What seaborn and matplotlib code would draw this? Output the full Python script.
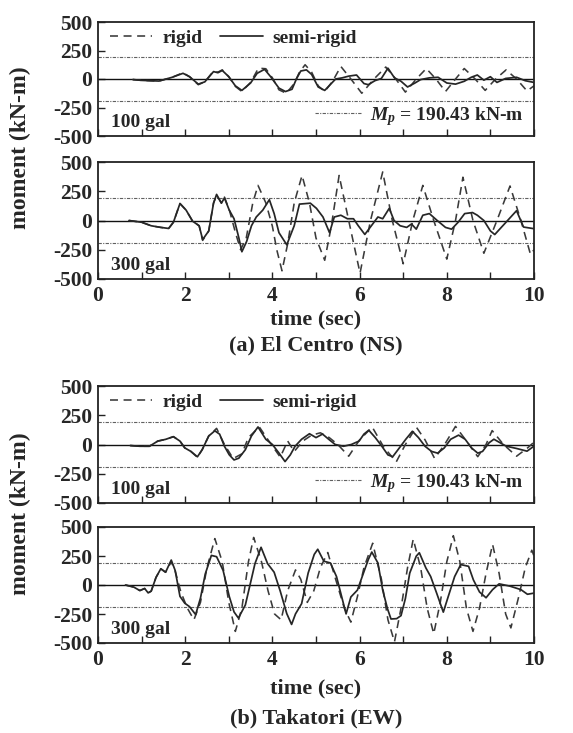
import numpy as np
import pandas as pd
import matplotlib
matplotlib.use('Agg')
import matplotlib.pyplot as plt
import seaborn as sns
from matplotlib.lines import Line2D

# ---------------- data ----------------
MP = 190.43
ylim_vals = [-500, 500]
ytick_vals = [-500, -250, 0, 250, 500]
xtick_vals = list(range(0, 11))
xtick_labels = ['0', '', '2', '', '4', '', '6', '', '8', '', '10']

# (a) El Centro, 100 gal
t_ec100_semi = [0.8, 1.0, 1.4, 1.7, 1.95, 2.1, 2.3, 2.45, 2.65, 2.75, 2.85, 3.0, 3.15, 3.3, 3.5,
                3.65, 3.82, 3.96, 4.15, 4.3, 4.45, 4.55, 4.65, 4.78, 4.9, 5.05, 5.2, 5.35, 5.45, 5.6,
                5.75, 5.93, 6.1, 6.2, 6.35, 6.5, 6.65, 6.8, 6.95, 7.1, 7.27, 7.4, 7.6, 7.8, 8.0,
                8.2, 8.4, 8.56, 8.7, 8.85, 9.0, 9.15, 9.35, 9.6, 9.8, 10.0]
m_ec100_semi = [-5, -12, -18, 15, 50, 20, -45, -25, 65, 55, 75, 20, -60, -100, -35,
                50, 85, 20, -80, -110, -90, 0, 70, 80, 40, -70, -100, -40, 0, 10,
                25, 35, -40, -50, -15, 5, 95, 10, -20, -70, -35, -5, 10, 15, -35,
                -45, -20, 15, 35, -10, 20, -30, 5, 15, -15, -30]
t_ec100_rigid = [0.8, 1.0, 1.4, 1.7, 1.95, 2.1, 2.3, 2.45, 2.65, 2.75, 2.85, 3.0, 3.15, 3.3, 3.5,
                 3.68, 3.85, 4.0, 4.15, 4.32, 4.5, 4.62, 4.75, 4.9, 5.05, 5.2, 5.38, 5.57, 5.8, 6.05,
                 6.33, 6.6, 6.83, 7.05, 7.3, 7.53, 7.75, 7.97, 8.2, 8.4, 8.65, 8.88, 9.12, 9.36, 9.6,
                 9.84, 10.0]
m_ec100_rigid = [-5, -12, -18, 15, 55, 20, -50, -25, 70, 60, 80, 20, -65, -110, -30,
                 95, 90, 10, -95, -125, -40, 60, 125, 60, -60, -110, -20, 110, 0, -125,
                 0, 105, 0, -115, 0, 92, 0, -110, 0, 92, 0, -100, 0, 80, 0,
                 -105, -60]

# (a) El Centro, 300 gal
t_ec300_semi = [0.71, 1.0, 1.22, 1.44, 1.62, 1.73, 1.88, 2.02, 2.17, 2.32, 2.4, 2.54, 2.65, 2.72, 2.83,
                2.9, 3.01, 3.12, 3.23, 3.3, 3.41, 3.52, 3.63, 3.78, 3.93, 4.04, 4.15, 4.33, 4.5, 4.62,
                4.87, 5.01, 5.16, 5.31, 5.42, 5.57, 5.72, 5.86, 5.97, 6.12, 6.27, 6.42, 6.53, 6.68, 6.79,
                6.93, 7.08, 7.19, 7.3, 7.45, 7.6, 7.78, 7.97, 8.11, 8.26, 8.41, 8.59, 8.7, 8.85, 9.0,
                9.1, 9.36, 9.6, 9.76, 10.0]
m_ec300_semi = [0, -15, -45, -59, -68, -15, 145, 89, -6, -45, -163, -89, 148, 223, 148,
                193, 89, 15, -148, -267, -178, -45, 30, 89, 178, 59, -104, -208, -45, 140,
                148, 104, 30, -104, 30, 45, 15, 15, -45, -119, -45, 30, 15, 104, 0,
                -45, -59, -30, -74, 45, 59, 0, -59, -74, -15, 59, 68, 45, 0, -89,
                -120, -14, 84, -56, -70]
t_ec300_rigid = [0.71, 1.0, 1.22, 1.44, 1.62, 1.73, 1.88, 2.02, 2.17, 2.32, 2.4, 2.54, 2.65, 2.72, 2.83,
                 2.9, 3.02, 3.15, 3.27, 3.4, 3.55, 3.67, 3.85, 4.0, 4.1, 4.22, 4.35, 4.5, 4.68, 4.85,
                 5.0, 5.2, 5.35, 5.53, 5.75, 6.01, 6.25, 6.53, 6.75, 7.0, 7.22, 7.45, 7.7, 8.0, 8.2,
                 8.37, 8.6, 8.85, 9.15, 9.45, 9.7, 9.92, 10.0]
m_ec300_rigid = [0, -15, -45, -59, -68, -15, 145, 89, -6, -45, -170, -89, 150, 215, 150,
                 200, 80, -100, -250, -150, 150, 300, 150, -50, -250, -430, -200, 150, 385, 150,
                 -150, -340, -50, 385, 0, -450, 0, 415, 0, -370, 0, 300, 0, -330, 0,
                 370, 0, -280, 0, 295, 0, -290, -250]

# (b) Takatori, 100 gal
t_tk100_semi = [0.74, 0.96, 1.18, 1.37, 1.55, 1.73, 1.88, 1.99, 2.13, 2.28, 2.39, 2.54, 2.68, 2.79, 2.9,
                3.01, 3.12, 3.23, 3.38, 3.52, 3.67, 3.85, 4.0, 4.15, 4.29, 4.41, 4.52, 4.67, 4.85, 5.0,
                5.15, 5.29, 5.44, 5.63, 5.81, 5.99, 6.1, 6.21, 6.36, 6.51, 6.65, 6.76, 6.91, 7.06, 7.21,
                7.35, 7.5, 7.65, 7.79, 7.94, 8.09, 8.27, 8.42, 8.57, 8.71, 8.82, 8.97, 9.08, 9.36, 9.6,
                9.84, 10.0]
m_tk100_semi = [-9, -15, -15, 29, 44, 67, 29, -29, -59, -105, -44, 73, 117, 88, -15,
                -88, -132, -117, -44, 73, 150, 44, 0, -73, -146, -89, -15, 45, 92, 59,
                89, 45, 0, -15, 0, 30, 89, 122, 59, -15, -89, -104, -30, 45, 113,
                59, -15, -59, -74, -30, 45, 80, 45, -30, -74, -59, 15, 45, -14, -34,
                -57, -14]
t_tk100_rigid = [0.74, 0.96, 1.18, 1.37, 1.55, 1.73, 1.88, 1.99, 2.13, 2.28, 2.39, 2.54,
                 2.72, 2.9, 3.1, 3.3, 3.45, 3.7, 3.9, 4.18, 4.35, 4.5, 4.7, 4.9, 5.1, 5.3, 5.5,
                 5.75, 6.0, 6.29, 6.55, 6.84, 7.05, 7.3, 7.5, 7.72, 7.95, 8.2, 8.45, 8.71, 8.9, 9.04,
                 9.3, 9.6, 9.85, 10.0]
m_tk100_rigid = [-9, -15, -15, 29, 44, 67, 29, -29, -59, -110, -44, 73,
                 138, 0, -120, -80, 60, 150, 40, -108, 30, -60, 30, 80, 100, 60, 0,
                 -100, 40, 149, -20, -149, 0, 149, 40, -119, 0, 155, 30, -104, 0, 119,
                 0, -100, -30, 20]

# (b) Takatori, 300 gal
t_tk300_semi = [0.63, 0.82, 0.96, 1.07, 1.15, 1.22, 1.33, 1.44, 1.55, 1.68, 1.77, 1.88, 1.99, 2.1, 2.24,
                2.35, 2.46, 2.6, 2.72, 2.87, 3.01, 3.12, 3.22, 3.38, 3.49, 3.6, 3.74, 3.89, 4.04, 4.18,
                4.33, 4.44, 4.53, 4.67, 4.82, 4.96, 5.04, 5.18, 5.33, 5.47, 5.58, 5.69, 5.8, 5.95, 6.06,
                6.2, 6.28, 6.42, 6.53, 6.64, 6.72, 6.85, 6.95, 7.05, 7.15, 7.3, 7.37, 7.52, 7.63, 7.77,
                7.92, 8.03, 8.18, 8.32, 8.5, 8.61, 8.75, 8.9, 9.05, 9.2, 9.45, 9.7, 9.85, 10.0]
m_tk300_semi = [0, -18, -48, -30, -68, -53, 65, 140, 110, 215, 125, -98, -157, -187, -255,
                -113, 95, 255, 244, 125, -98, -232, -285, -172, 6, 184, 325, 184, 110, -53,
                -247, -340, -249, -161, 103, 264, 308, 205, 190, 73, -88, -249, -103, -44, 73,
                220, 284, 190, -44, -205, -293, -290, -264, -117, 103, 249, 278, 147, 73, -73,
                -234, -103, 73, 176, 161, 44, -60, -110, -40, 10, -10, -40, -80, -70]
t_tk300_rigid = [0.63, 0.82, 0.96, 1.07, 1.15, 1.22, 1.33, 1.44, 1.55, 1.68, 1.77,
                 1.9, 2.05, 2.2, 2.35, 2.5, 2.68, 2.85, 3.0, 3.15, 3.3, 3.45, 3.57, 3.75, 3.9, 4.05,
                 4.2, 4.35, 4.53, 4.65, 4.8, 4.95, 5.1, 5.27, 5.45, 5.65, 5.8, 5.95, 6.1, 6.3, 6.5,
                 6.65, 6.8, 6.95, 7.1, 7.23, 7.4, 7.55, 7.7, 7.85, 8.0, 8.15, 8.3, 8.45, 8.6, 8.75,
                 8.9, 9.05, 9.2, 9.35, 9.47, 9.65, 9.8, 9.95, 10.0]
m_tk300_rigid = [0, -18, -48, -30, -68, -53, 65, 140, 110, 200, 120,
                 -60, -200, -300, -150, 150, 400, 200, -150, -400, -200, 200, 410, 200, -50, -250,
                 -300, -50, 130, 50, -150, -50, 150, 280, 50, -200, -320, -100, 150, 360, 50,
                 -300, -490, -200, 150, 395, 150, -200, -420, -150, 200, 425, 200, -200, -400, -200,
                 100, 350, 100, -250, -370, -100, 150, 300, 250]

panel_labels = ['100 gal', '300 gal', '100 gal', '300 gal']
series_labels = ['rigid', 'semi-rigid']
mp_label = r'$M_p$ = 190.43 kN-m'
captions = ['(a) El Centro (NS)', '(b) Takatori (EW)']

# ---------------- style ----------------
sns.set_theme(style='ticks')
plt.rcParams['font.family'] = ['Liberation Serif', 'DejaVu Serif']
plt.rcParams['font.weight'] = 'bold'
plt.rcParams['axes.unicode_minus'] = False
plt.rcParams['mathtext.fontset'] = 'custom'
plt.rcParams['mathtext.it'] = 'Liberation Serif:italic:bold'
plt.rcParams['mathtext.rm'] = 'Liberation Serif:bold'
plt.rcParams['mathtext.bf'] = 'Liberation Serif:bold'

W, H = 573, 733
fig = plt.figure(figsize=(W / 100, H / 100), dpi=100)
fig.patch.set_facecolor('white')

XL, XR = 98, 534
panel_rows = [(22, 136), (162, 279), (386, 503), (527, 643)]

c_semi = '#262626'
c_rigid = '#3a3a3a'
c_mp = '#606060'
rigid_ls = (0, (5, 3.5))
mp_ls = (0, (3, 1.2, 1, 1.2))
FS_TICK = 15.5
FS_LAB = 16
FS_YLAB = 17
FS_SMALL = 14

series = [
    (t_ec100_semi, m_ec100_semi, t_ec100_rigid, m_ec100_rigid),
    (t_ec300_semi, m_ec300_semi, t_ec300_rigid, m_ec300_rigid),
    (t_tk100_semi, m_tk100_semi, t_tk100_rigid, m_tk100_rigid),
    (t_tk300_semi, m_tk300_semi, t_tk300_rigid, m_tk300_rigid),
]

for i, ((top, bot), (ts, ms, tr, mr)) in enumerate(zip(panel_rows, series)):
    ax = fig.add_axes([XL / W, 1 - bot / H, (XR - XL) / W, (bot - top) / H])
    ax.set_facecolor('white')
    ax.axhline(MP, color=c_mp, lw=0.8, ls=mp_ls, zorder=1)
    ax.axhline(-MP, color=c_mp, lw=0.8, ls=mp_ls, zorder=1)
    ax.axhline(0, color='#111111', lw=1.0, zorder=1)
    df_s = pd.DataFrame({'t': ts, 'm': ms})
    df_r = pd.DataFrame({'t': tr, 'm': mr})
    sns.lineplot(data=df_r, x='t', y='m', ax=ax, color=c_rigid, lw=1.15,
                 linestyle=rigid_ls, estimator=None, sort=False, legend=False, zorder=2)
    sns.lineplot(data=df_s, x='t', y='m', ax=ax, color=c_semi, lw=1.25,
                 estimator=None, sort=False, legend=False, zorder=3)
    ax.set_xlim(0, 10)
    ax.set_ylim(*ylim_vals)
    ax.set_yticks(ytick_vals)
    ax.set_yticklabels([str(v) for v in ytick_vals])
    ax.set_xticks(xtick_vals)
    if i % 2 == 1:
        ax.set_xticklabels(xtick_labels)
    else:
        ax.set_xticklabels([])
    ax.set_xlabel('')
    ax.set_ylabel('')
    ax.tick_params(axis='both', direction='in', length=5, width=1.0, color='#222222',
                   labelsize=FS_TICK, pad=4)
    ax.tick_params(axis='x', pad=5)
    for sp in ax.spines.values():
        sp.set_linewidth(1.3)
        sp.set_color('#222222')
        sp.set_visible(True)
    ax.text(0.03, 0.04, panel_labels[i], transform=ax.transAxes, fontsize=FS_SMALL,
            ha='left', va='bottom')
    if i % 2 == 0:
        h = [Line2D([], [], color=c_rigid, lw=1.15, ls=rigid_ls),
             Line2D([], [], color=c_semi, lw=1.25)]
        leg = ax.legend(h, series_labels, loc='upper left', bbox_to_anchor=(0.0, 1.04),
                        ncol=2, frameon=False, fontsize=FS_SMALL, handlelength=2.2,
                        handletextpad=0.5, columnspacing=0.9, borderaxespad=0.2)
        ax.add_artist(leg)
        ax.legend([Line2D([], [], color=c_mp, lw=0.8, ls=mp_ls)], [mp_label],
                  loc='lower right', bbox_to_anchor=(1.0, -0.02), frameon=False,
                  fontsize=FS_SMALL, handlelength=2.4, handletextpad=0.4, borderaxespad=0.15)

xc = (XL + XR) / 2 / W
for ycen, yt, yc, cap in [(148, 319, 345, captions[0]), (514, 688, 718, captions[1])]:
    fig.text(20 / W, 1 - ycen / H, 'moment (kN-m)', rotation=90, ha='center', va='center',
             fontsize=FS_YLAB)
    fig.text(xc, 1 - yt / H, 'time (sec)', ha='center', va='center', fontsize=FS_LAB)
    fig.text(xc, 1 - yc / H, cap, ha='center', va='center', fontsize=FS_LAB)

fig.savefig('out.png', dpi=100, facecolor='white')
